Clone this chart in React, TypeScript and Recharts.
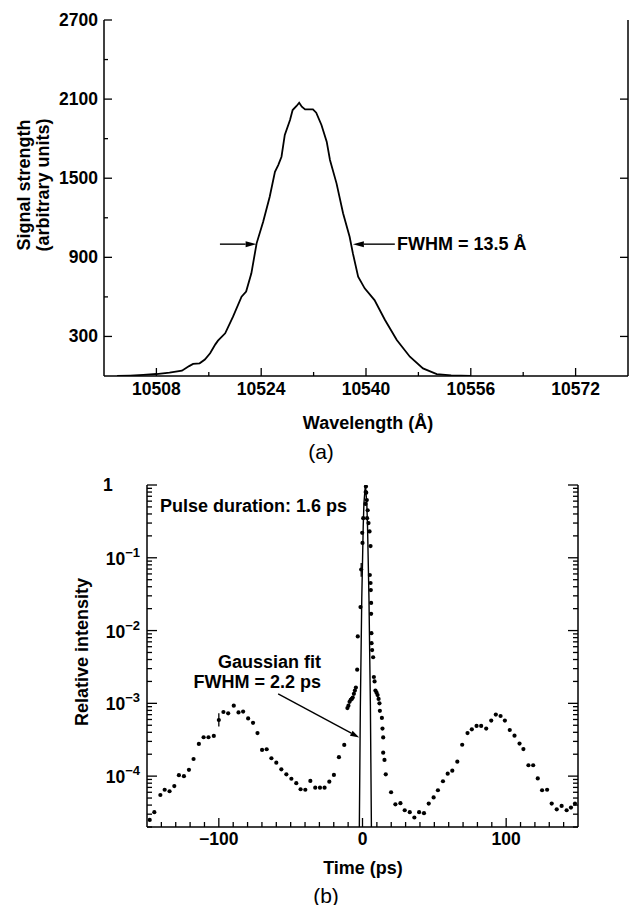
import React from 'react'
import { LineChart, ComposedChart, Line, Scatter, ErrorBar, XAxis, YAxis, ReferenceLine } from 'recharts'

const FONT = '"Liberation Sans", Arial, Helvetica, sans-serif'
const INK = '#000'

// ---- (a) spectrum ----
const wavelength = [
  10502, 10504, 10506, 10508, 10510, 10511.9, 10513.0, 10513.6, 10514.6, 10515.4,
  10516.2, 10517.0, 10517.4, 10518.5, 10519.7, 10521.0, 10521.7, 10522.5, 10523.3, 10524.3,
  10525.3, 10526.1, 10526.6, 10527.1, 10527.6, 10528.4, 10528.8, 10529.4, 10529.8, 10530.2,
  10530.7, 10531.9, 10532.4, 10533.2, 10534.0, 10534.5, 10535.5, 10536.5, 10537.5, 10538.0,
  10538.8, 10539.8, 10541.3, 10542.9, 10544.7, 10546.7, 10548.7, 10550.8, 10553.0, 10556.0,
]
const signal = [
  0, 3, 8, 15, 25, 40, 75, 92, 96, 125,
  172, 240, 268, 324, 450, 602, 640, 779, 1006, 1170,
  1360, 1549, 1600, 1663, 1828, 1941, 2017, 2048, 2073, 2043,
  2022, 2022, 1997, 1904, 1777, 1638, 1461, 1234, 1056, 930,
  753, 665, 576, 425, 273, 146, 58, 15, 5, 0,
]
const wlTicks = [10508, 10516, 10524, 10532, 10540, 10548, 10556, 10564, 10572]
const wlLabels = [10508, 10524, 10540, 10556, 10572]
const sigTicks = [300, 600, 900, 1200, 1500, 1800, 2100, 2400, 2700]
const sigLabels = [300, 900, 1500, 2100, 2700]
const fwhmLeft = [{ x: 10517.7, y: 1000 }, { x: 10523.3, y: 1000 }]
const fwhmRight = [{ x: 10544.4, y: 1000 }, { x: 10538.0, y: 1000 }]

// ---- (b) autocorrelation ----
const timePs = [
  -148.1, -144.9, -140.7, -137.7, -134.3, -131.0, -127.8, -124.3, -120.8, -117.6,
  -113.9, -110.6, -107.2, -103.5, -100.0, -96.8, -93.5, -89.6, -86.3, -83.1,
  -79.6, -76.2, -73.1, -69.9, -66.7, -63.4, -60.0, -56.5, -53.0, -49.5,
  -46.1, -43.1, -39.8, -36.3, -32.9, -29.6, -26.4, -23.1, -19.9, -16.4,
  -12.7, -10.5, -9.8, -9.0, -8.2, -7.5, -6.8, -6.0, -5.3, -4.6,
  -3.7, -3.3, -1.4, -0.9, -0.2, 0.0, 0.5, 2.1, 2.2, 2.4,
  2.6, 3.0, 3.2, 3.6, 4.2, 4.9, 5.1, 5.6, 5.6, 5.8,
  6.0, 6.0, 6.2, 6.3, 6.7, 7.4, 7.9, 8.4, 9.0, 9.8,
  10.5, 11.2, 11.8, 12.1, 13.5, 13.9, 14.4, 14.4, 15.3, 16.2,
  19.9, 22.9, 26.4, 29.4, 32.9, 36.1, 39.4, 42.8, 46.1, 49.5,
  52.5, 56.0, 59.3, 62.5, 66.0, 69.4, 73.1, 76.1, 79.4, 82.6,
  86.1, 89.6, 92.8, 96.1, 99.1, 102.5, 105.8, 109.3, 112.0, 115.5,
  118.8, 122.0, 125.0, 128.5, 131.7, 135.2, 138.6, 142.1, 145.1, 147.9,
]
const intensity = [
  2.5e-5, 3.2e-5, 5.5e-5, 6.5e-5, 6.2e-5, 7.3e-5, 1.03e-4, 1.0e-4, 1.22e-4, 1.72e-4,
  2.77e-4, 3.42e-4, 3.42e-4, 3.57e-4, 5.9e-4, 7.6e-4, 7.3e-4, 9.3e-4, 7.5e-4, 7.7e-4,
  6.2e-4, 5.4e-4, 3.9e-4, 2.29e-4, 2.34e-4, 1.76e-4, 1.53e-4, 1.24e-4, 1.06e-4, 9.2e-5,
  8.0e-5, 6.6e-5, 6.5e-5, 8.6e-5, 6.95e-5, 6.95e-5, 6.95e-5, 8.4e-5, 1.04e-4, 1.82e-4,
  2.68e-4, 8.6e-4, 9.3e-4, 1.05e-3, 1.12e-3, 1.15e-3, 1.2e-3, 1.35e-3, 1.5e-3, 1.65e-3,
  2.9e-3, 8.3e-3, 2.1e-2, 6.9e-2, 0.22, 0.16, 0.35, 0.55, 0.8, 0.95,
  0.785, 0.62, 0.35, 0.45, 0.3, 0.23, 0.058, 0.145, 0.045, 0.036,
  0.024, 0.017, 0.0092, 0.0067, 0.0054, 0.0043, 0.0023, 0.002, 1.5e-3, 1.4e-3,
  1.3e-3, 1.15e-3, 1.0e-3, 7.9e-4, 6.3e-4, 4.5e-4, 3.4e-4, 2.1e-4, 1.67e-4, 1.06e-4,
  6.0e-5, 4.1e-5, 4.25e-5, 3.4e-5, 3.2e-5, 2.7e-5, 3.2e-5, 3.1e-5, 4.2e-5, 5.1e-5,
  6.4e-5, 8.5e-5, 1.08e-4, 1.19e-4, 1.58e-4, 2.7e-4, 3.9e-4, 4.4e-4, 4.9e-4, 4.9e-4,
  4.5e-4, 5.8e-4, 7.0e-4, 6.7e-4, 5.8e-4, 4.3e-4, 3.6e-4, 2.8e-4, 2.35e-4, 1.41e-4,
  1.41e-4, 9.3e-5, 6.4e-5, 6.5e-5, 4.2e-5, 3.5e-5, 3.9e-5, 3.4e-5, 3.7e-5, 4.2e-5,
]
const errTime = [-100.0, -0.9]
const errDown = [1.1e-4, 0.014]
const errUp = [1.4e-4, 0.016]
const fitTime = [-2.2, -1.5, -0.5, 0.5, 1.0, 2.0, 3.0, 3.5, 4.5, 5.5, 6.2]
const fitValue = [2e-5, 9e-4, 0.028, 0.27, 0.56, 1, 0.56, 0.27, 0.028, 9e-4, 2e-5]
const timeTicks = [
  -140, -130, -120, -110, -100, -90, -80, -70, -60, -50, -40, -30, -20, -10, 0,
  10, 20, 30, 40, 50, 60, 70, 80, 90, 100, 110, 120, 130, 140,
]
const timeLabels = [-100, 0, 100]
const logTicks = [
  2e-5, 3e-5, 4e-5, 5e-5, 6e-5, 7e-5, 8e-5, 9e-5,
  1e-4, 2e-4, 3e-4, 4e-4, 5e-4, 6e-4, 7e-4, 8e-4, 9e-4,
  1e-3, 2e-3, 3e-3, 4e-3, 5e-3, 6e-3, 7e-3, 8e-3, 9e-3,
  1e-2, 2e-2, 3e-2, 4e-2, 5e-2, 6e-2, 7e-2, 8e-2, 9e-2,
  0.1, 0.2, 0.3, 0.4, 0.5, 0.6, 0.7, 0.8, 0.9, 1,
]
const gaussArrow = [{ x: -58.7, y: 1.35e-3 }, { x: -2.3, y: 3.4e-4 }]

const spectrum = wavelength.map((w, i) => ({ w, s: signal[i] }))
const dots = timePs.map((t, i) => {
  const k = errTime.indexOf(t)
  return { t, v: intensity[i], err: k >= 0 ? [errDown[k], errUp[k]] : undefined }
})
const fit = fitTime.map((t, i) => ({ t, v: fitValue[i] }))

const tickText = { fontFamily: FONT, fontSize: 17.5, fontWeight: 700, fill: INK }
const frame = { stroke: INK, strokeWidth: 1.5 }

const isDecade = (v: number) => Math.abs(Math.log10(v) - Math.round(Math.log10(v))) < 1e-6

// tick drawn inward from the frame, optional label outside
function inwardTick(side: string, isMajor: (v: number) => boolean, majorLen: number, minorLen: number,
  label?: (v: number, x: number, y: number) => React.ReactNode) {
  return (p: any) => {
    const v = p.payload.value
    const len = isMajor(v) ? majorLen : minorLen
    const { x, y } = p
    let x2 = x, y2 = y
    if (side === 'bottom') y2 = y - len
    if (side === 'top') y2 = y + len
    if (side === 'left') x2 = x + len
    if (side === 'right') x2 = x - len
    return (
      <g>
        <line x1={x} y1={y} x2={x2} y2={y2} stroke={INK} strokeWidth={1.3} />
        {label ? label(v, x, y) : null}
      </g>
    )
  }
}

const wlLabel = (v: number, x: number, y: number) =>
  wlLabels.includes(v) ? <text x={x} y={y + 13} textAnchor="middle" dominantBaseline="central" {...tickText}>{v}</text> : null
const sigLabel = (v: number, x: number, y: number) =>
  sigLabels.includes(v) ? <text x={x - 6} y={y} textAnchor="end" dominantBaseline="central" {...tickText}>{v}</text> : null
const timeLabel = (v: number, x: number, y: number) =>
  timeLabels.includes(v) ? (
    <text x={x} y={y + 12} textAnchor="middle" dominantBaseline="central" {...tickText}>
      {v < 0 ? '\u2212' + Math.abs(v) : v}
    </text>
  ) : null
const logLabel = (v: number, x: number, y: number) => {
  if (!isDecade(v)) return null
  const e = Math.round(Math.log10(v))
  if (e === 0) return <text x={x - 44} y={y + 6} textAnchor="start" {...tickText}>1</text>
  return (
    <text x={x - 7} y={y + 7} textAnchor="end" {...tickText}>
      10<tspan dy={-8} fontSize={13}>{'\u2212' + Math.abs(e)}</tspan>
    </text>
  )
}

function Arrow(p: any) {
  const { x1, y1, x2, y2 } = p
  const head = p.head || 10
  const half = p.half || 3
  const a = Math.atan2(y2 - y1, x2 - x1)
  const c = Math.cos(a), s = Math.sin(a)
  const bx = x2 - head * c, by = y2 - head * s
  const pts = `${x2},${y2} ${bx - half * s},${by + half * c} ${bx + half * s},${by - half * c}`
  return (
    <g>
      <line x1={x1} y1={y1} x2={bx} y2={by} stroke={INK} strokeWidth={1.4} />
      <polygon points={pts} fill={INK} />
    </g>
  )
}

const Dot = (p: any) => (p.cx == null ? <g /> : <circle cx={p.cx} cy={p.cy} r={2.1} fill={INK} />)

const txt = { fontFamily: FONT, fontWeight: 700, fontSize: 18, fill: INK }

export default function App() {
  return (
    <div style={{ position: 'absolute', left: 0, top: 0, width: 629, height: 905, overflow: 'hidden', background: '#fff' }}>
      <div style={{ position: 'absolute', left: 0, top: 0 }}>
        <LineChart width={629} height={460} data={spectrum} margin={{ top: 20, right: 0, bottom: 0, left: 0 }}>
          <XAxis dataKey="w" type="number" domain={[10500, 10580]} allowDataOverflow ticks={wlTicks} interval={0}
            height={84} tickSize={0} tickMargin={0} tickLine={false} axisLine={frame}
            tick={inwardTick('bottom', (v) => wlLabels.includes(v), 8, 4, wlLabel)} />
          <XAxis xAxisId="top" orientation="top" type="number" domain={[10500, 10580]} allowDataOverflow ticks={wlTicks}
            interval={0} height={0} tickSize={0} tickMargin={0} tickLine={false} axisLine={frame}
            tick={inwardTick('top', (v) => wlLabels.includes(v), 8, 4)} />
          <YAxis type="number" domain={[0, 2700]} allowDataOverflow ticks={sigTicks} interval={0} width={104}
            tickSize={0} tickMargin={0} tickLine={false} axisLine={frame}
            tick={inwardTick('left', (v) => sigLabels.includes(v), 8, 4, sigLabel)} />
          <YAxis yAxisId="r" orientation="right" type="number" domain={[0, 2700]} allowDataOverflow
            ticks={[300, 900, 1500, 2100]} interval={0} width={1} tickSize={0} tickMargin={0} tickLine={false}
            axisLine={frame} tick={inwardTick('right', () => true, 8, 4)} />
          <Line dataKey="s" type="linear" stroke={INK} strokeWidth={1.8} dot={false} isAnimationActive={false} />
          <ReferenceLine segment={fwhmLeft} shape={(p: any) => <Arrow {...p} head={11} half={3} />} />
          <ReferenceLine segment={fwhmRight} shape={(p: any) => <Arrow {...p} head={11} half={3} />} />
        </LineChart>
      </div>

      <div style={{ position: 'absolute', left: 0, top: 460 }}>
        <ComposedChart width={629} height={445} margin={{ top: 25, right: 50, bottom: 0, left: 0 }}>
          <XAxis dataKey="t" type="number" domain={[-150, 150]} allowDataOverflow ticks={timeTicks} interval={0}
            height={78} tickSize={0} tickMargin={0} tickLine={false} axisLine={frame}
            tick={inwardTick('bottom', (v) => timeLabels.includes(v), 9, 5, timeLabel)} />
          <XAxis xAxisId="top" orientation="top" type="number" domain={[-150, 150]} allowDataOverflow ticks={timeTicks}
            interval={0} height={0} tickSize={0} tickMargin={0} tickLine={false} axisLine={frame}
            tick={inwardTick('top', (v) => timeLabels.includes(v), 9, 5)} />
          <YAxis type="number" scale="log" domain={[2e-5, 1]} allowDataOverflow ticks={logTicks} interval={0} width={147}
            tickSize={0} tickMargin={0} tickLine={false} axisLine={frame}
            tick={inwardTick('left', isDecade, 10, 5, logLabel)} />
          <YAxis yAxisId="r" orientation="right" type="number" scale="log" domain={[2e-5, 1]} allowDataOverflow
            ticks={logTicks} interval={0} width={1} tickSize={0} tickMargin={0} tickLine={false} axisLine={frame}
            tick={inwardTick('right', isDecade, 10, 5)} />
          <Line data={fit} dataKey="v" type="linear" stroke={INK} strokeWidth={1.4} dot={false} isAnimationActive={false} />
          <Scatter data={dots} dataKey="v" shape={Dot} isAnimationActive={false}>
            <ErrorBar dataKey="err" direction="y" width={0} stroke={INK} strokeWidth={1.3} isAnimationActive={false} />
          </Scatter>
          <ReferenceLine segment={gaussArrow} shape={(p: any) => <Arrow {...p} head={9} half={2.8} />} />
        </ComposedChart>
      </div>

      <svg width={629} height={905} style={{ position: 'absolute', left: 0, top: 0, pointerEvents: 'none' }}>
        <g {...txt}>
          <text transform="translate(24,185) rotate(-90)" textAnchor="middle" dominantBaseline="central">Signal strength</text>
          <text transform="translate(43,185) rotate(-90)" textAnchor="middle" dominantBaseline="central">(arbitrary units)</text>
          <text x={368} y={423} textAnchor="middle" dominantBaseline="central">Wavelength (Å)</text>
          <text x={397} y={244} textAnchor="start" dominantBaseline="central">FWHM = 13.5 Å</text>
          <text transform="translate(82,652) rotate(-90)" textAnchor="middle" dominantBaseline="central">Relative intensity</text>
          <text x={160} y={506} textAnchor="start" dominantBaseline="central">Pulse duration: 1.6 ps</text>
          <text x={321} y={662} textAnchor="end" dominantBaseline="central">Gaussian fit</text>
          <text x={321} y={682} textAnchor="end" dominantBaseline="central">FWHM = 2.2 ps</text>
          <text x={363} y={868} textAnchor="middle" dominantBaseline="central">Time (ps)</text>
        </g>
        <g fontFamily={FONT} fontSize={21} fill={INK}>
          <text x={321} y={451} textAnchor="middle" dominantBaseline="central">(a)</text>
          <text x={326} y={895} textAnchor="middle" dominantBaseline="central">(b)</text>
        </g>
      </svg>
    </div>
  )
}
